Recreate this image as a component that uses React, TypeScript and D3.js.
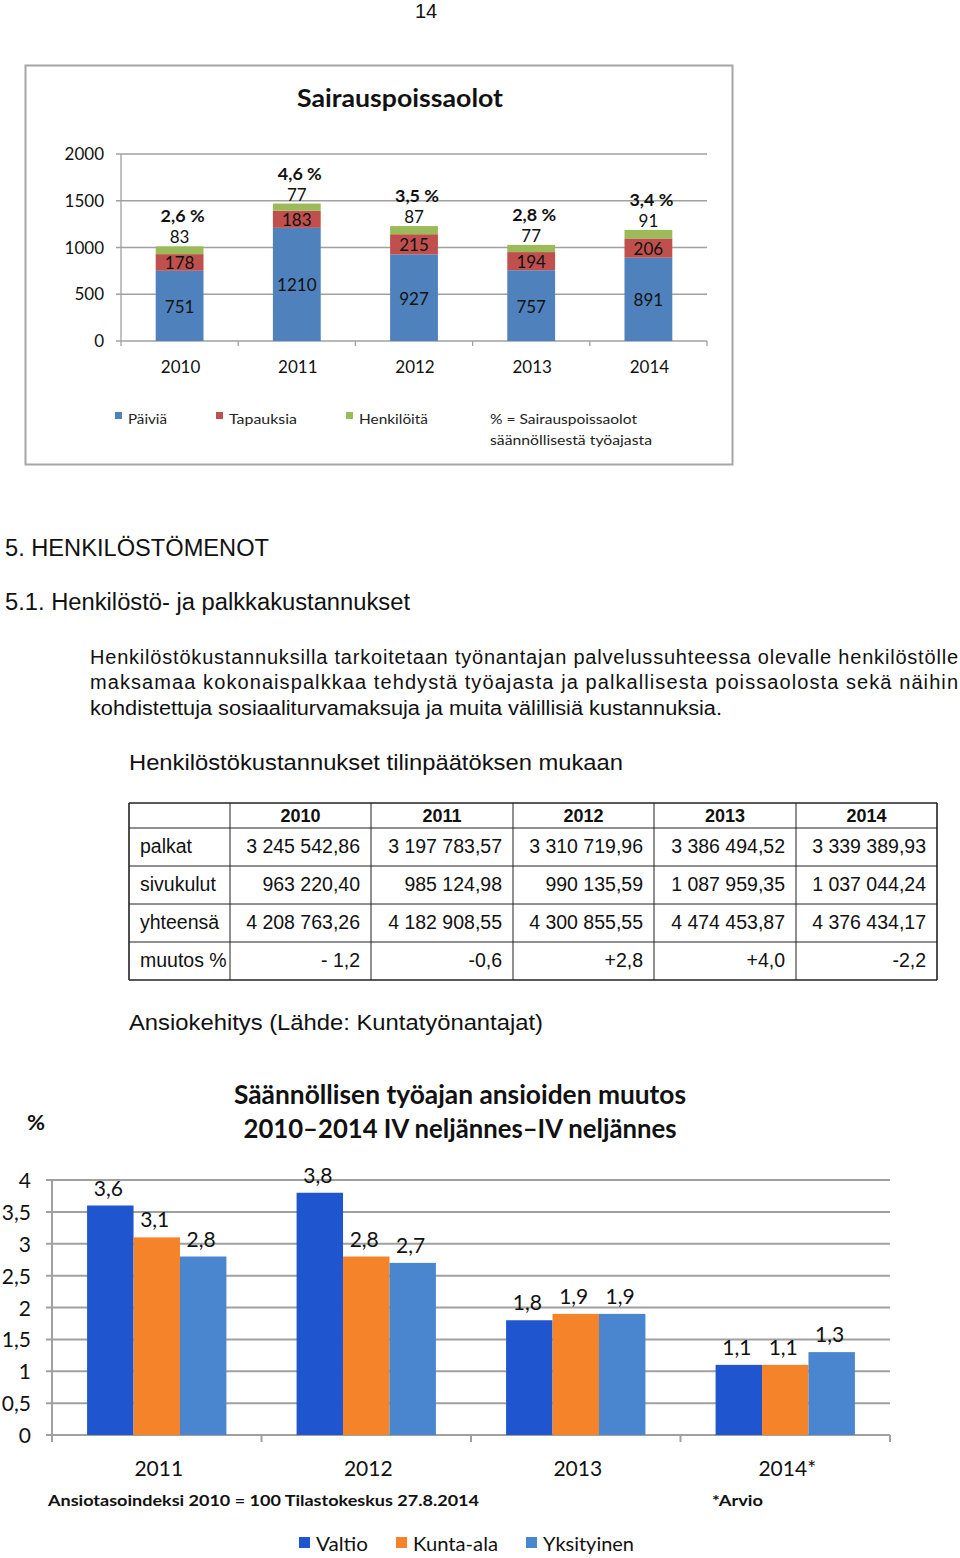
import React from "react";
import * as d3 from "d3";

// ---------- Data ----------
const sickYears = ["2010", "2011", "2012", "2013", "2014"];
const paivia = [751, 1210, 927, 757, 891];
const tapauksia = [178, 183, 215, 194, 206];
const henkiloita = [83, 77, 87, 77, 91];
const sickPct = ["2,6 %", "4,6 %", "3,5 %", "2,8 %", "3,4 %"];
const sickTicks = [0, 500, 1000, 1500, 2000];
const sickSeries = ["Päiviä", "Tapauksia", "Henkilöitä"];

const tableYears = ["2010", "2011", "2012", "2013", "2014"];
const tableRowLabels = ["palkat", "sivukulut", "yhteensä", "muutos %"];
const palkat = ["3 245 542,86", "3 197 783,57", "3 310 719,96", "3 386 494,52", "3 339 389,93"];
const sivukulut = ["963 220,40", "985 124,98", "990 135,59", "1 087 959,35", "1 037 044,24"];
const yhteensa = ["4 208 763,26", "4 182 908,55", "4 300 855,55", "4 474 453,87", "4 376 434,17"];
const muutos = ["- 1,2", "-0,6", "+2,8", "+4,0", "-2,2"];

const wageYears = ["2011", "2012", "2013", "2014*"];
const wageSeries = ["Valtio", "Kunta-ala", "Yksityinen"];
const valtio = [3.6, 3.8, 1.8, 1.1];
const kuntaAla = [3.1, 2.8, 1.9, 1.1];
const yksityinen = [2.8, 2.7, 1.9, 1.3];
const wageTicks = [0, 0.5, 1, 1.5, 2, 2.5, 3, 3.5, 4];

// ---------- Styles ----------
const ARIAL = "'Liberation Sans', Arial, sans-serif";
const CAL = "Lato, 'Open Sans', sans-serif";
const sickColors = ["#4f81bd", "#c0504d", "#9bbb59"];
const wageColors = ["#1f55cf", "#f5832a", "#4a86d0"];
const gridGray = "#a0a0a0";

type TP = {
  x: number; y: number; children: React.ReactNode; size?: number; weight?: string | number;
  anchor?: "start" | "middle" | "end"; len?: number; family?: string; fill?: string; adj?: string;
};
const T = ({ x, y, children, size = 16, weight = "normal", anchor = "start", len, family = CAL, fill = "#111", adj = "spacingAndGlyphs" }: TP) => (
  <text x={x} y={y} fontSize={size} fontWeight={weight} textAnchor={anchor} fontFamily={family} fill={fill}
    {...(len ? { textLength: len, lengthAdjust: adj } : {})}>{children}</text>
);

function SickChart() {
  const x0 = 121;
  const x = d3.scaleBand<string>().domain(sickYears).range([x0, 707]).paddingInner(0.592).paddingOuter(0.296);
  const y = d3.scaleLinear().domain([0, 2000]).range([341, 154]);
  const rows = sickYears.map((yr, i) => ({ yr, a: paivia[i], b: tapauksia[i], c: henkiloita[i] }));
  const stack = d3.stack<any>().keys(["a", "b", "c"])(rows);
  const step = x.step();
  const bw = x.bandwidth();
  return (
    <g>
      <rect x={25.5} y={65.5} width={707} height={399} fill="#fff" stroke="#a6a6a6" strokeWidth={2} />
      <T x={400} y={107} size={25} weight="bold" anchor="middle" len={206}>Sairauspoissaolot</T>
      {sickTicks.map((t) => (
        <g key={t}>
          <line x1={x0 - 5} x2={707} y1={y(t)} y2={y(t)} stroke={gridGray} strokeWidth={1.3} />
          <T x={104} y={y(t) + 6} size={17} anchor="end">{t}</T>
        </g>
      ))}
      <line x1={x0} x2={x0} y1={y(2000)} y2={y(0)} stroke={gridGray} strokeWidth={1.3} />
      {d3.range(sickYears.length + 1).map((i) => (
        <line key={i} x1={x0 + i * step} x2={x0 + i * step} y1={y(0)} y2={y(0) + 5} stroke={gridGray} strokeWidth={1.3} />
      ))}
      {stack.map((s, si) => (
        <g key={si}>
          {s.map((d, i) => (
            <rect key={i} x={x(sickYears[i])!} width={bw} y={y(d[1])} height={y(d[0]) - y(d[1])} fill={sickColors[si]} />
          ))}
        </g>
      ))}
      {sickYears.map((yr, i) => {
        const cx = x(yr)! + bw / 2;
        const top = y(paivia[i] + tapauksia[i] + henkiloita[i]);
        return (
          <g key={yr}>
            <T x={cx} y={(y(0) + y(paivia[i])) / 2 + 7} size={17} anchor="middle">{paivia[i]}</T>
            <T x={cx} y={(y(paivia[i]) + y(paivia[i] + tapauksia[i])) / 2 + 7} size={17} anchor="middle">{tapauksia[i]}</T>
            <T x={cx} y={top - 3} size={17} anchor="middle">{henkiloita[i]}</T>
            <T x={cx + 3} y={top - 24} size={17} weight="bold" anchor="middle" len={44}>{sickPct[i]}</T>
            <T x={cx + 1} y={373} size={17} anchor="middle">{yr}</T>
          </g>
        );
      })}
      {sickSeries.map((s, i) => {
        const lx = [115, 216, 346][i];
        return (
          <g key={s}>
            <rect x={lx} y={412} width={7} height={7} fill={sickColors[i]} />
            <T x={lx + 13} y={424} size={14} fill="#222" len={[39, 68, 69][i]}>{s}</T>
          </g>
        );
      })}
      <T x={490} y={424} size={14} fill="#222" len={147}>% = Sairauspoissaolot</T>
      <T x={490} y={445} size={14} fill="#222" len={162}>säännöllisestä työajasta</T>
    </g>
  );
}

function CostTable() {
  const colX = [129, 230, 371, 513, 654, 796, 937];
  const rowY = [803, 828, 866, 904, 942, 980];
  const rows = [palkat, sivukulut, yhteensa, muutos];
  return (
    <g fontFamily={ARIAL}>
      {colX.map((cx, i) => (
        <line key={"c" + i} x1={cx} x2={cx} y1={rowY[0]} y2={rowY[5]} stroke="#222" strokeWidth={i === 0 || i === 6 ? 1.6 : 1} />
      ))}
      {rowY.map((ry, i) => (
        <line key={"r" + i} x1={colX[0]} x2={colX[6]} y1={ry} y2={ry} stroke="#222" strokeWidth={i === 0 || i === 5 ? 1.6 : 1} />
      ))}
      {tableYears.map((yr, i) => (
        <T key={yr} x={(colX[i + 1] + colX[i + 2]) / 2} y={822} size={18} weight="bold" anchor="middle" family={ARIAL}>{yr}</T>
      ))}
      {tableRowLabels.map((lab, r) => (
        <g key={lab}>
          <T x={140} y={rowY[r + 1] + 25} size={19.5} family={ARIAL}>{lab}</T>
          {rows[r].map((v, c) => (
            <T key={c} x={colX[c + 2] - 11} y={rowY[r + 1] + 25} size={19.5} anchor="end" family={ARIAL}>{v}</T>
          ))}
        </g>
      ))}
    </g>
  );
}

function WageChart() {
  const x = d3.scaleBand<string>().domain(wageYears).range([52, 890]).paddingInner(0.335).paddingOuter(0.1675);
  const xi = d3.scaleBand<number>().domain([0, 1, 2]).range([0, x.bandwidth()]);
  const y = d3.scaleLinear().domain([0, 4]).range([1435, 1180]);
  const series = [valtio, kuntaAla, yksityinen];
  const fmt = (v: number) => d3.format(".1f")(v).replace(".", ",");
  const fmtTick = (v: number) => String(v).replace(".", ",");
  const step = x.step();
  return (
    <g>
      <T x={460} y={1104} size={27} weight="bold" anchor="middle" len={452}>Säännöllisen työajan ansioiden muutos</T>
      <T x={460} y={1138} size={27} weight="bold" anchor="middle" len={433}>2010–2014 IV neljännes–IV neljännes</T>
      <T x={27} y={1130} size={20} weight="bold" len={18}>%</T>
      {wageTicks.map((t) => (
        <g key={t}>
          <line x1={46} x2={890} y1={y(t)} y2={y(t)} stroke={gridGray} strokeWidth={2} />
          <T x={31} y={y(t) + 8} size={21} anchor="end">{fmtTick(t)}</T>
        </g>
      ))}
      <line x1={52} x2={52} y1={y(4)} y2={y(0)} stroke={gridGray} strokeWidth={2} />
      {d3.range(wageYears.length + 1).map((i) => (
        <line key={i} x1={52 + i * step} x2={52 + i * step} y1={y(0)} y2={y(0) + 7} stroke={gridGray} strokeWidth={2} />
      ))}
      {wageYears.map((yr, gi) => (
        <g key={yr}>
          {series.map((s, si) => {
            const bx = x(yr)! + xi(si)!;
            return (
              <g key={si}>
                <rect x={bx} width={xi.bandwidth()} y={y(s[gi])} height={y(0) - y(s[gi])} fill={wageColors[si]} />
                <T x={bx + xi.bandwidth() / 2 - 2} y={y(s[gi]) - 10} size={21} anchor="middle">{fmt(s[gi])}</T>
              </g>
            );
          })}
          <T x={x(yr)! + x.bandwidth() / 2 + 2} y={1476} size={21} anchor="middle">{yr}</T>
        </g>
      ))}
      <T x={48} y={1506} size={16} weight="bold" len={431}>Ansiotasoindeksi  2010 = 100 Tilastokeskus  27.8.2014</T>
      <T x={712} y={1506} size={16} weight="bold" len={51}>*Arvio</T>
      {wageSeries.map((s, i) => {
        const lx = [299, 396, 526][i];
        return (
          <g key={s}>
            <rect x={lx} y={1537} width={11} height={11} fill={wageColors[i]} />
            <T x={lx + 17} y={1551} size={20} len={[52, 85, 91][i]}>{s}</T>
          </g>
        );
      })}
    </g>
  );
}

export default function App() {
  return (
    <svg width={960} height={1558} viewBox="0 0 960 1558"
      style={{ position: "absolute", left: 0, top: 0, background: "#fff", display: "block" }}>
      <rect width={960} height={1558} fill="#fff" />
      <T x={426} y={18} size={20} anchor="middle" family={ARIAL}>14</T>
      <SickChart />
      <T x={5} y={556} size={23} family={ARIAL} len={264}>5. HENKILÖSTÖMENOT</T>
      <T x={5} y={610} size={23} family={ARIAL} len={405}>5.1. Henkilöstö- ja palkkakustannukset</T>
      <T x={90} y={664} size={20} family={ARIAL} len={868} adj="spacing">Henkilöstökustannuksilla tarkoitetaan työnantajan palvelussuhteessa olevalle henkilöstölle</T>
      <T x={90} y={689} size={20} family={ARIAL} len={868} adj="spacing">maksamaa kokonaispalkkaa tehdystä työajasta ja palkallisesta poissaolosta sekä näihin</T>
      <T x={90} y={715} size={20} family={ARIAL} len={632}>kohdistettuja sosiaaliturvamaksuja ja muita välillisiä kustannuksia.</T>
      <T x={129} y={770} size={22} family={ARIAL} len={494}>Henkilöstökustannukset tilinpäätöksen mukaan</T>
      <CostTable />
      <T x={129} y={1030} size={22} family={ARIAL} len={414}>Ansiokehitys (Lähde: Kuntatyönantajat)</T>
      <WageChart />
    </svg>
  );
}
